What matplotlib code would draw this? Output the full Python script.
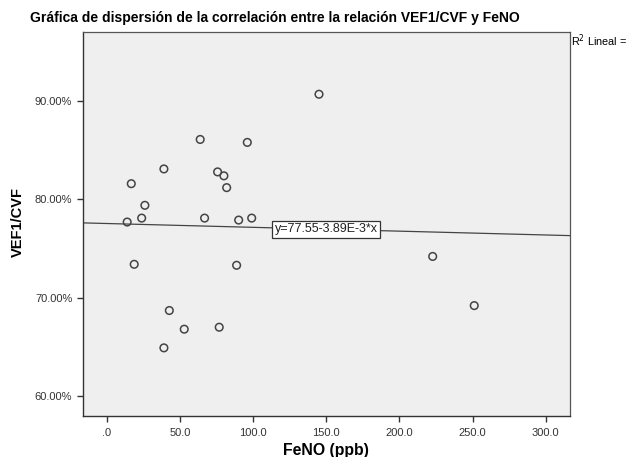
import numpy as np
import matplotlib
matplotlib.use('Agg')
import matplotlib.pyplot as plt
from matplotlib.ticker import FuncFormatter

plt.rcParams['font.family'] = ['Liberation Sans', 'DejaVu Sans']

# FeNO (ppb) vs VEF1/CVF (%)
feno = [63.8, 96.0, 39.0, 16.7, 75.7, 80.0, 81.9, 26.0, 13.9, 23.8, 66.8, 90.1,
        99.0, 18.7, 88.7, 42.7, 52.9, 76.8, 39.0, 222.7, 251.1, 145.0]
vef_cvf = [86.1, 85.8, 83.1, 81.6, 82.8, 82.4, 81.2, 79.4, 77.7, 78.1, 78.1, 77.9,
           78.1, 73.4, 73.3, 68.7, 66.8, 67.0, 64.9, 74.2, 69.2, 90.7]

# linear fit as printed on the chart
intercept = 77.55
slope = -3.89e-3
fit_label = 'y=77.55-3.89E-3*x'

x_ticks = [0, 50, 100, 150, 200, 250, 300]
y_ticks = [60, 70, 80, 90]

W, H = 628, 457
fig = plt.figure(figsize=(W / 100, H / 100), dpi=100)
ax = fig.add_axes([82.7 / W, 1 - 415.7 / H, 486.8 / W, (415.7 - 32.3) / H])
ax.set_facecolor('#efefef')

xmin, xmax = -16.5, 316.2
ax.set_xlim(xmin, xmax)
ax.set_ylim(58.0, 97.0)

# regression line
xs = np.array([xmin, xmax])
ax.plot(xs, intercept + slope * xs, color='#444444', lw=0.9, zorder=2)

ax.scatter(feno, vef_cvf, s=30, facecolors='none', edgecolors='#444444',
           linewidths=1.1, zorder=3)

lx = 150
box_txt = ax.text(lx, intercept + slope * lx, fit_label, ha='center', va='center',
                  fontsize=8, color='#222222', zorder=4,
                  bbox=dict(boxstyle='square,pad=0.2', fc='white', ec='#333333', lw=0.9))

ax.set_xticks(x_ticks)
ax.set_yticks(y_ticks)

def fmt_x(v, pos):
    s = '%.1f' % v
    return s[1:] if s.startswith('0') else s

ax.xaxis.set_major_formatter(FuncFormatter(fmt_x))
ax.yaxis.set_major_formatter(FuncFormatter(lambda v, pos: '%.2f%%' % v))
ax.tick_params(axis='both', direction='out', length=4, width=1, colors='#333333',
               labelsize=8, labelcolor='#333333')
ax.tick_params(axis='x', pad=5)

for side in ['left', 'bottom']:
    ax.spines[side].set_color('#333333')
    ax.spines[side].set_linewidth(1.0)
for side in ['top', 'right']:
    ax.spines[side].set_color('#555555')
    ax.spines[side].set_linewidth(0.9)

ylab = fig.text(17.5 / W, 1 - 222 / H, 'VEF1/CVF', rotation=90, ha='center', va='center',
                fontsize=9, fontweight='bold')
xlab = fig.text(326 / W, 1 - 451 / H, 'FeNO (ppb)', ha='center', va='center',
                fontsize=9, fontweight='bold')
title = fig.text(274.5 / W, 1 - 18 / H,
                 'Gráfica de dispersión de la correlación entre la relación VEF1/CVF y FeNO',
                 ha='center', va='center', fontsize=9, fontweight='bold')
r2 = fig.text(571 / W, 1 - 41 / H, 'R$^2$ Lineal =', ha='left', va='center', fontsize=6.5)


def fit_text(t, target_px, vertical=False):
    # scale font so the rendered text spans the width seen in the reference
    renderer = fig.canvas.get_renderer()
    bb = t.get_window_extent(renderer)
    size = bb.height if vertical else bb.width
    t.set_fontsize(t.get_fontsize() * target_px / size)


fit_text(title, 491)
fit_text(r2, 56)
fit_text(xlab, 87)
fit_text(ylab, 70, vertical=True)
fit_text(box_txt, 104)

fig.savefig('out.png', dpi=100)
